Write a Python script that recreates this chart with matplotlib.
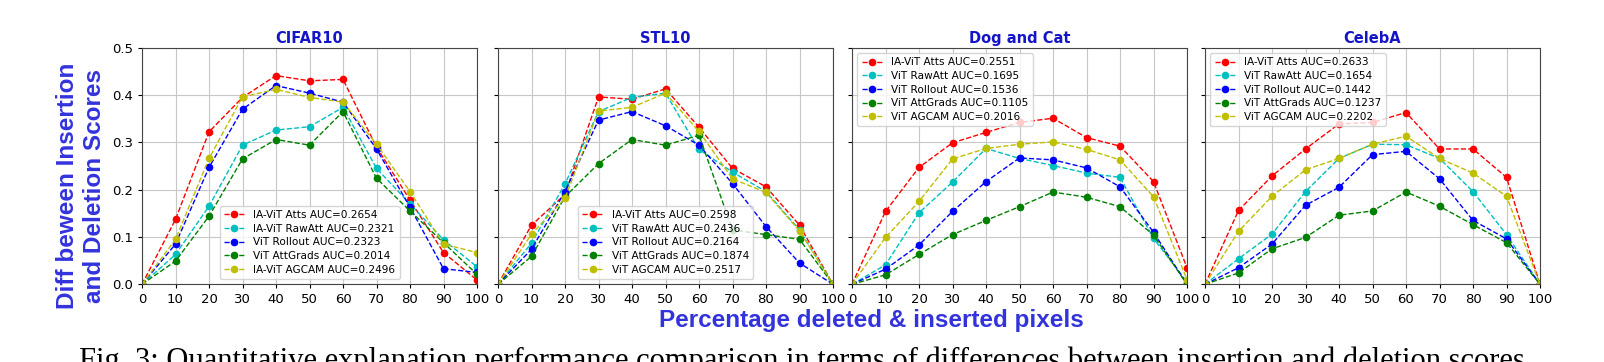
import matplotlib.pyplot as plt

# x positions (percentage of pixels deleted / inserted)
pct = [0, 10, 20, 30, 40, 50, 60, 70, 80, 90, 100]

titles = ["CIFAR10", "STL10", "Dog and Cat", "CelebA"]

# CIFAR10
cifar_atts = [0, 0.137, 0.322, 0.395, 0.441, 0.430, 0.433, 0.290, 0.178, 0.067, 0.009]
cifar_rawatt = [0, 0.063, 0.165, 0.294, 0.326, 0.333, 0.374, 0.245, 0.170, 0.094, 0.037]
cifar_rollout = [0, 0.085, 0.247, 0.370, 0.420, 0.404, 0.385, 0.286, 0.163, 0.033, 0.025]
cifar_attgrads = [0, 0.049, 0.144, 0.265, 0.306, 0.294, 0.365, 0.224, 0.155, 0.088, 0.021]
cifar_agcam = [0, 0.095, 0.266, 0.396, 0.412, 0.395, 0.385, 0.296, 0.196, 0.085, 0.067]

# STL10
stl_atts = [0, 0.125, 0.190, 0.396, 0.391, 0.413, 0.332, 0.245, 0.206, 0.125, 0]
stl_rawatt = [0, 0.087, 0.212, 0.365, 0.395, 0.404, 0.285, 0.237, 0.196, 0.115, 0]
stl_rollout = [0, 0.074, 0.196, 0.347, 0.365, 0.335, 0.294, 0.213, 0.122, 0.045, 0]
stl_attgrads = [0, 0.059, 0.185, 0.255, 0.306, 0.294, 0.315, 0.115, 0.105, 0.095, 0]
stl_agcam = [0, 0.106, 0.182, 0.366, 0.374, 0.404, 0.323, 0.223, 0.194, 0.113, 0]

# Dog and Cat
dc_atts = [0, 0.154, 0.247, 0.299, 0.321, 0.342, 0.351, 0.310, 0.292, 0.217, 0.035]
dc_rawatt = [0, 0.041, 0.151, 0.216, 0.287, 0.266, 0.251, 0.235, 0.226, 0.097, 0.005]
dc_rollout = [0, 0.032, 0.083, 0.154, 0.217, 0.267, 0.263, 0.246, 0.206, 0.110, 0]
dc_attgrads = [0, 0.020, 0.063, 0.105, 0.135, 0.164, 0.195, 0.184, 0.164, 0.104, 0]
dc_agcam = [0, 0.099, 0.175, 0.265, 0.287, 0.296, 0.301, 0.285, 0.263, 0.185, 0.010]

# CelebA
cel_atts = [0, 0.156, 0.229, 0.286, 0.339, 0.342, 0.363, 0.286, 0.286, 0.226, 0]
cel_rawatt = [0, 0.054, 0.106, 0.196, 0.266, 0.296, 0.295, 0.266, 0.196, 0.105, 0]
cel_rollout = [0, 0.035, 0.085, 0.167, 0.205, 0.274, 0.281, 0.223, 0.135, 0.096, 0]
cel_attgrads = [0, 0.024, 0.075, 0.099, 0.146, 0.155, 0.195, 0.165, 0.126, 0.088, 0]
cel_agcam = [0, 0.112, 0.186, 0.242, 0.266, 0.296, 0.313, 0.266, 0.235, 0.186, 0]

labels = [
    ["IA-ViT Atts AUC=0.2654", "IA-ViT RawAtt AUC=0.2321", "ViT Rollout AUC=0.2323",
     "ViT AttGrads AUC=0.2014", "IA-ViT AGCAM AUC=0.2496"],
    ["IA-ViT Atts AUC=0.2598", "ViT RawAtt AUC=0.2436", "ViT Rollout AUC=0.2164",
     "ViT AttGrads AUC=0.1874", "ViT AGCAM AUC=0.2517"],
    ["IA-ViT Atts AUC=0.2551", "ViT RawAtt AUC=0.1695", "ViT Rollout AUC=0.1536",
     "ViT AttGrads AUC=0.1105", "ViT AGCAM AUC=0.2016"],
    ["IA-ViT Atts AUC=0.2633", "ViT RawAtt AUC=0.1654", "ViT Rollout AUC=0.1442",
     "ViT AttGrads AUC=0.1237", "ViT AGCAM AUC=0.2202"],
]

series = [
    [cifar_atts, cifar_rawatt, cifar_rollout, cifar_attgrads, cifar_agcam],
    [stl_atts, stl_rawatt, stl_rollout, stl_attgrads, stl_agcam],
    [dc_atts, dc_rawatt, dc_rollout, dc_attgrads, dc_agcam],
    [cel_atts, cel_rawatt, cel_rollout, cel_attgrads, cel_agcam],
]

styles = ['r--o', 'c--o', 'b--o', 'g--o', 'y--o']
legend_locs = ['lower center', 'lower center', 'upper left', 'upper left']
lefts = [142, 498, 852, 1205]

fig = plt.figure(figsize=(16.04, 3.62), dpi=100)
W, H = 1604, 362

for i in range(4):
    ax = fig.add_axes([lefts[i] / W, 1 - 284.3 / H, 335 / W, 236.6 / H])
    for ys, st, lab in zip(series[i], styles, labels[i]):
        ax.plot(pct, ys, st, label=lab, markersize=4.5, linewidth=1)
    ax.set_xlim(0, 100)
    ax.set_ylim(0, 0.5)
    ax.set_xticks(pct)
    ax.set_yticks([0, 0.1, 0.2, 0.3, 0.4, 0.5])
    ax.tick_params(labelsize=9.5, length=3)
    if i > 0:
        ax.set_yticklabels([])
    ax.grid(True, color='#c8c8c8', linewidth=0.8)
    ax.set_title(titles[i], fontsize=10.5, fontweight='bold', color='#1414c8', pad=3.5)
    ax.legend(loc=legend_locs[i], fontsize=7.6, handlelength=2.0,
              borderpad=0.4, labelspacing=0.35)
    for sp in ax.spines.values():
        sp.set_color('#444444')

fig.text(81 / W, 1 - 186 / H, "Diff beween Insertion\nand Deletion Scores",
         rotation=90, ha='center', va='center', fontsize=17.5,
         fontweight='bold', family='Liberation Sans', color='#3333dd')
fig.text(871 / W, 1 - 321 / H, "Percentage deleted & inserted pixels",
         ha='center', va='center', fontsize=17.5, fontweight='bold',
         family='Liberation Sans', color='#3333dd')

# figure caption, cut by the lower edge as in the source
fig.text(79 / W, 1 - 347 / H,
         "Fig. 3: Quantitative explanation performance comparison in terms of "
         "differences between insertion and deletion scores",
         ha='left', va='top', fontsize=22, family='Liberation Serif', color='black')

fig.savefig("out.png", dpi=100)
